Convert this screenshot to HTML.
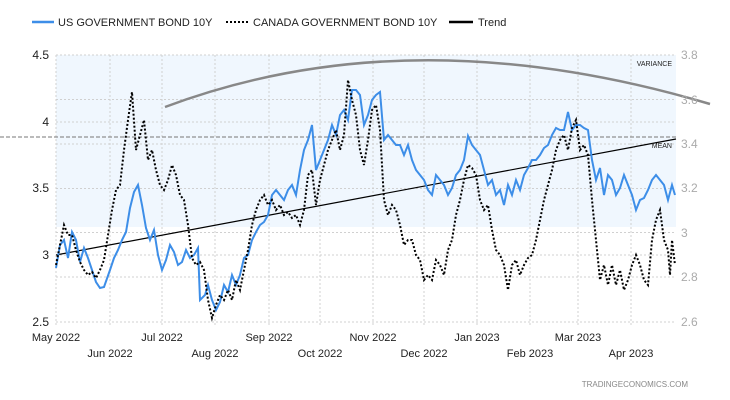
<!DOCTYPE html>
<html><head><meta charset="utf-8"><style>
html,body{margin:0;padding:0;background:#fff;}
svg{display:block;font-family:"Liberation Sans",sans-serif;}
</style></head><body>
<svg width="730" height="400" viewBox="0 0 730 400">
<rect x="56" y="55" width="620" height="172" fill="#f0f7fe"/>
<g stroke="#d0d0d0" stroke-dasharray="2,2" stroke-width="1">
<line x1="56" y1="55" x2="676" y2="55"/><line x1="56" y1="99.5" x2="676" y2="99.5"/>
<line x1="56" y1="122" x2="676" y2="122"/><line x1="56" y1="144" x2="676" y2="144"/>
<line x1="56" y1="188.5" x2="676" y2="188.5"/><line x1="56" y1="232.5" x2="676" y2="232.5"/>
<line x1="56" y1="255" x2="676" y2="255"/><line x1="56" y1="277" x2="676" y2="277"/>
<line x1="56" y1="322" x2="676" y2="322"/>
<line x1="56" y1="55" x2="56" y2="327"/><line x1="110" y1="55" x2="110" y2="327"/>
<line x1="162" y1="55" x2="162" y2="327"/><line x1="215" y1="55" x2="215" y2="327"/>
<line x1="269" y1="55" x2="269" y2="327"/><line x1="320" y1="55" x2="320" y2="327"/>
<line x1="373" y1="55" x2="373" y2="327"/><line x1="424" y1="55" x2="424" y2="327"/>
<line x1="477" y1="55" x2="477" y2="327"/><line x1="530" y1="55" x2="530" y2="327"/>
<line x1="578" y1="55" x2="578" y2="327"/><line x1="631" y1="55" x2="631" y2="327"/>
</g>
<line x1="0" y1="137" x2="676" y2="137" stroke="#777" stroke-dasharray="4,2"/>
<path d="M165,107 Q410,15 710,104" fill="none" stroke="#888" stroke-width="2.5"/>
<line x1="56" y1="255" x2="676" y2="139" stroke="#000" stroke-width="1.2"/>
<polyline fill="none" stroke="#3d8ee8" stroke-width="2" points="56,268 60,245 64,240 68,258 72,232 76,240 80,262 84,248 88,258 92,270 96,282 100,288 104,287 110,270 114,258 118,250 122,240 126,232 130,208 134,192 138,185 142,205 146,228 150,240 154,230 158,255 162,270 166,260 170,245 174,252 178,265 182,262 186,250 190,258 194,255 198,248 200,300 205,295 208,285 212,300 216,310 220,302 224,285 228,292 232,275 236,285 240,275 244,258 248,255 252,240 256,232 260,225 264,222 268,215 272,195 276,190 280,195 284,200 288,190 292,185 296,195 300,170 304,150 308,140 312,125 316,170 320,160 324,150 328,140 332,125 336,135 340,115 344,110 348,120 352,90 356,90 360,95 364,125 368,115 372,100 376,95 380,92 384,140 388,135 392,140 396,145 400,145 404,155 408,145 412,160 416,170 420,175 424,180 428,190 432,195 436,175 440,180 444,185 448,195 452,188 456,175 460,170 464,160 468,136 472,145 476,150 480,155 484,170 488,185 492,180 496,195 500,190 504,205 508,185 512,195 516,180 520,190 524,175 528,168 532,160 536,160 540,155 544,148 548,145 552,135 556,128 560,130 564,130 568,112 572,130 576,125 580,125 584,128 588,130 592,160 596,180 600,168 604,195 608,175 612,180 616,195 620,188 624,175 628,185 632,195 636,210 640,200 644,198 648,190 652,180 656,175 660,180 664,185 668,200 672,185 675,195"/>
<polyline fill="none" stroke="#000" stroke-width="2" stroke-dasharray="2,2" points="56,265 60,245 64,225 68,235 72,235 76,250 80,262 84,270 88,275 92,272 96,278 100,270 104,260 108,235 112,210 116,190 120,185 124,150 128,120 132,92 136,150 140,135 144,120 148,160 152,150 156,170 160,185 164,190 168,180 172,165 176,175 180,195 184,200 188,225 192,258 196,265 200,262 204,270 208,300 212,318 216,305 220,295 224,300 228,290 232,300 236,280 240,290 244,270 248,250 252,225 256,210 260,200 264,195 268,205 272,200 276,210 280,205 284,215 288,212 292,218 296,215 300,225 304,210 308,175 312,170 316,205 320,180 324,165 328,150 332,140 336,130 340,150 344,135 348,80 352,100 356,115 360,150 364,165 368,140 372,110 376,105 380,130 384,200 388,215 392,205 396,210 400,225 404,245 408,240 412,240 416,255 420,260 424,280 428,275 432,280 436,260 440,265 444,275 448,250 452,240 456,215 460,200 464,180 468,165 472,168 476,175 480,200 484,210 488,205 492,230 496,250 500,255 504,265 508,290 512,265 516,260 520,275 524,265 528,258 532,255 536,240 540,220 544,200 548,185 552,170 556,150 560,140 564,135 568,150 572,128 576,120 580,150 584,145 588,155 592,200 596,240 600,280 604,265 608,285 612,265 616,285 620,270 624,290 628,280 632,265 636,255 640,265 644,280 648,285 652,240 656,220 660,210 664,240 668,250 670,275 672,240 675,265"/>
<g font-size="12" fill="#222" text-anchor="end">
<text x="49" y="59">4.5</text><text x="49" y="126">4</text><text x="49" y="192">3.5</text><text x="49" y="259">3</text><text x="49" y="326">2.5</text>
</g>
<g font-size="12" fill="#aaa">
<text x="681" y="59">3.8</text><text x="681" y="104">3.6</text><text x="681" y="148">3.4</text><text x="681" y="192">3.2</text><text x="681" y="237">3</text><text x="681" y="281">2.8</text><text x="681" y="326">2.6</text>
</g>
<text x="672" y="66" font-size="7" fill="#222" text-anchor="end">VARIANCE</text>
<text x="672" y="148" font-size="7" fill="#222" text-anchor="end">MEAN</text>
<g font-size="11" fill="#222" text-anchor="middle">
<text x="56" y="341">May 2022</text><text x="162" y="341">Jul 2022</text><text x="269" y="341">Sep 2022</text><text x="373" y="341">Nov 2022</text><text x="477" y="341">Jan 2023</text><text x="578" y="341">Mar 2023</text>
<text x="110" y="357">Jun 2022</text><text x="215" y="357">Aug 2022</text><text x="320" y="357">Oct 2022</text><text x="424" y="357">Dec 2022</text><text x="530" y="357">Feb 2023</text><text x="631" y="357">Apr 2023</text>
</g>
<text x="688" y="387" font-size="8" fill="#888" text-anchor="end">TRADINGECONOMICS.COM</text>
<g font-size="11" fill="#222">
<line x1="32" y1="22" x2="54" y2="22" stroke="#3d8ee8" stroke-width="2.5"/>
<text x="58" y="26">US GOVERNMENT BOND 10Y</text>
<line x1="226" y1="22" x2="248" y2="22" stroke="#000" stroke-width="2" stroke-dasharray="2,2"/>
<text x="253" y="26">CANADA GOVERNMENT BOND 10Y</text>
<line x1="449" y1="22" x2="473" y2="22" stroke="#000" stroke-width="2.5"/>
<text x="478" y="26">Trend</text>
</g>
</svg>
</body></html>
